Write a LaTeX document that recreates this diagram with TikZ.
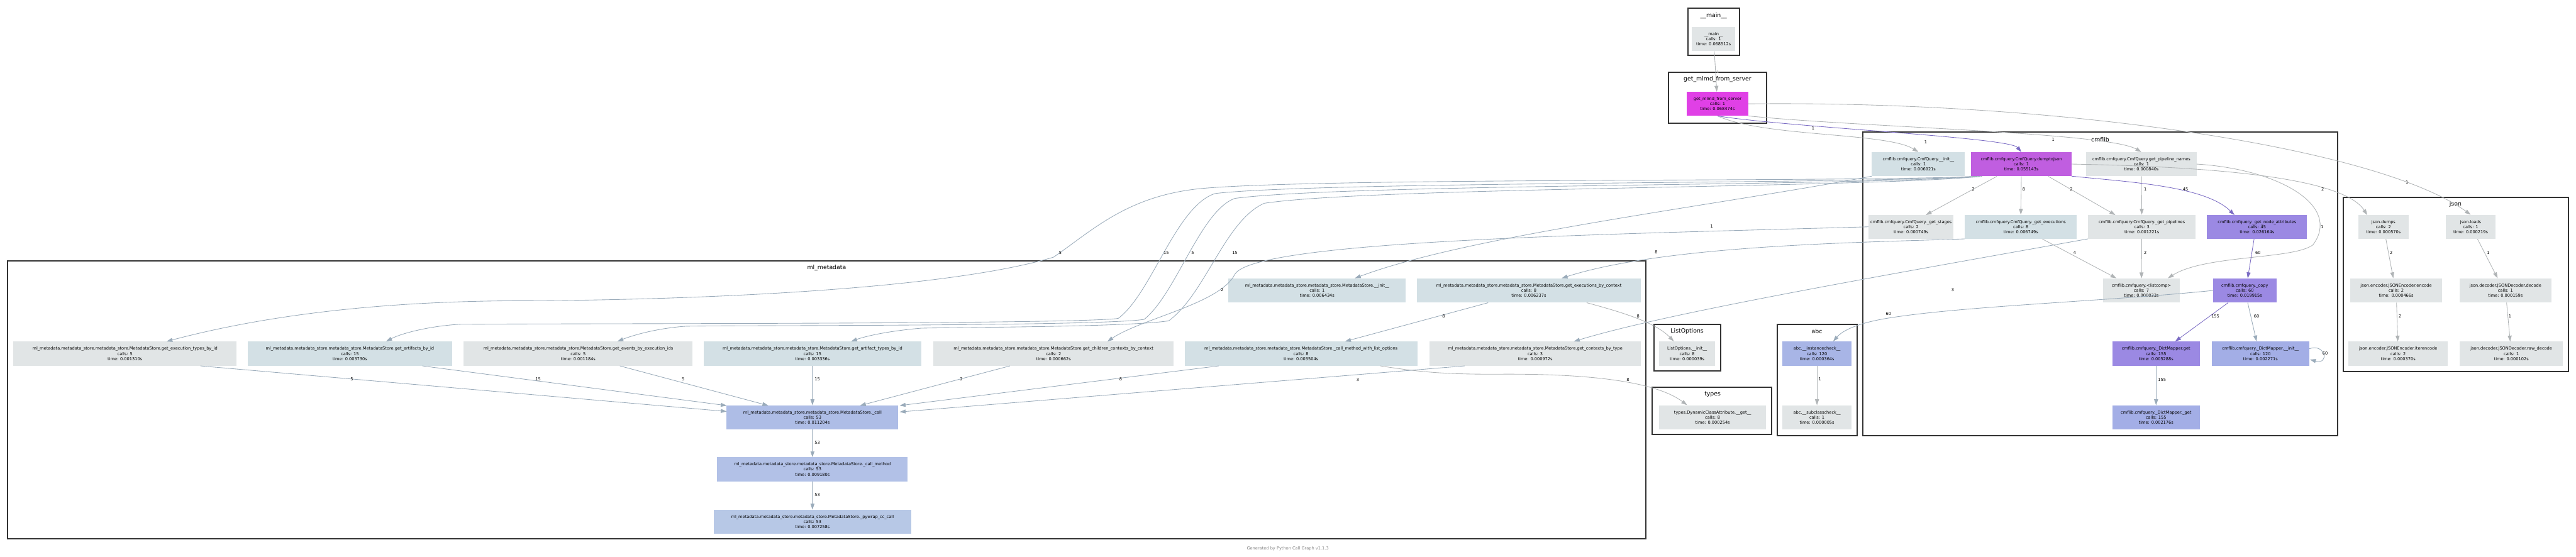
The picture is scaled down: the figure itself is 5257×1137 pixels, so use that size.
\documentclass[tikz,border=0pt]{standalone}
\usepackage{fontspec}
\setmainfont{DejaVu Sans}
\usetikzlibrary{arrows.meta}
\definecolor{cg}{HTML}{E1E5E6}
\definecolor{cb}{HTML}{D3E0E5}
\definecolor{ccall}{HTML}{AEBDE6}
\definecolor{ccm}{HTML}{B2C1E7}
\definecolor{cpy}{HTML}{B7C8E6}
\definecolor{cpur}{HTML}{9B89E3}
\definecolor{cdm}{HTML}{A3AEE6}
\definecolor{cabc}{HTML}{A8B5E6}
\definecolor{cdump}{HTML}{C05EE0}
\definecolor{cmlmd}{HTML}{E040E6}
\definecolor{egrey}{HTML}{B0B4B6}
\definecolor{eblue}{HTML}{9AABBA}
\definecolor{epur}{HTML}{7B6CC4}
\definecolor{clb}{HTML}{333333}
\begin{document}
\begin{tikzpicture}[x=1pt,y=-1pt,
  fn/.style={rectangle, inner sep=0pt, minimum height=49pt, align=center, font=\fontsize{8.5}{10.4}\selectfont},
  clu/.style={draw=clb, line width=2.6pt},
  clab/.style={font=\fontsize{12}{14}\selectfont, inner sep=0pt},
  eg/.style={draw=egrey, line width=1.1pt, -{Triangle[length=12pt,width=8pt]}, color=egrey},
  eb/.style={draw=eblue, line width=1.1pt, -{Triangle[length=12pt,width=8pt]}, color=eblue},
  ep/.style={draw=epur, line width=1.1pt, -{Triangle[length=12pt,width=8pt]}, color=epur},
  el/.style={font=\fontsize{8.5}{10}\selectfont, inner sep=1pt}]
\useasboundingbox (0,0) rectangle (5257,1137);
\fill[white] (0,0) rectangle (5257,1137);

% clusters
\draw[clu] (3445,17) rectangle (3550,113);
\node[clab] (kmain) at (3497,32) {\_\_main\_\_};
\draw[clu] (3405,147) rectangle (3605,252);
\node[clab] (kmlmd) at (3505,162) {get\_mlmd\_from\_server};
\draw[clu] (3801,270) rectangle (4771,890);
\node[clab] (kcmf) at (4286,285) {cmflib};
\draw[clu] (4782,403) rectangle (5242,758);
\node[clab] (kjson) at (5011,417) {json};
\draw[clu] (15,533) rectangle (3359,1100);
\node[clab] (kml) at (1687,547) {ml\_metadata};
\draw[clu] (3375,662) rectangle (3512,757);
\node[clab] (klo) at (3443,676) {ListOptions};
\draw[clu] (3372,791) rectangle (3616,887);
\node[clab] (kty) at (3495,805) {types};
\draw[clu] (3627,662) rectangle (3790,890);
\node[clab] (kabc) at (3708,676) {abc};

% nodes
\node[fn, fill=cg, minimum width=88pt] (main) at (3497,80) {\_\_main\_\_\\calls: 1\\time: 0.068512s};
\node[fn, fill=cmlmd, minimum width=125pt] (mlmd) at (3505,212) {get\_mlmd\_from\_server\\calls: 1\\time: 0.068474s};

\node[fn, fill=cb, minimum width=190pt] (cinit) at (3915,335) {cmflib.cmfquery.CmfQuery.\_\_init\_\_\\calls: 1\\time: 0.006921s};
\node[fn, fill=cdump, minimum width=205pt] (cdump) at (4125,335) {cmflib.cmfquery.CmfQuery.dumptojson\\calls: 1\\time: 0.055143s};
\node[fn, fill=cg, minimum width=225pt] (cnames) at (4370,335) {cmflib.cmfquery.CmfQuery.get\_pipeline\_names\\calls: 1\\time: 0.000840s};

\node[fn, fill=cg, minimum width=173pt] (cstages) at (3900,463) {cmflib.cmfquery.CmfQuery.\_get\_stages\\calls: 2\\time: 0.000749s};
\node[fn, fill=cb, minimum width=228pt] (cexec) at (4124,463) {cmflib.cmfquery.CmfQuery.\_get\_executions\\calls: 8\\time: 0.006749s};
\node[fn, fill=cg, minimum width=220pt] (cpipe) at (4371,463) {cmflib.cmfquery.CmfQuery.\_get\_pipelines\\calls: 3\\time: 0.001221s};
\node[fn, fill=cpur, minimum width=204pt] (cnode) at (4606,463) {cmflib.cmfquery.\_get\_node\_attributes\\calls: 45\\time: 0.026164s};

\node[fn, fill=cg, minimum width=157pt] (clist) at (4370,593) {cmflib.cmfquery.<listcomp>\\calls: 7\\time: 0.000033s};
\node[fn, fill=cpur, minimum width=129pt] (ccopy) at (4581,593) {cmflib.cmfquery.\_copy\\calls: 60\\time: 0.019915s};

\node[fn, fill=cpur, minimum width=179pt] (cget) at (4400,722) {cmflib.cmfquery.\_DictMapper.get\\calls: 155\\time: 0.005288s};
\node[fn, fill=cdm, minimum width=199pt] (cdinit) at (4613,722) {cmflib.cmfquery.\_DictMapper.\_\_init\_\_\\calls: 120\\time: 0.002271s};
\node[fn, fill=cdm, minimum width=179pt] (cdget) at (4400,852) {cmflib.cmfquery.\_DictMapper.\_get\\calls: 155\\time: 0.002176s};

\node[fn, fill=cg, minimum width=102pt] (jdumps) at (4864,463) {json.dumps\\calls: 2\\time: 0.000570s};
\node[fn, fill=cg, minimum width=101pt] (jloads) at (5042,463) {json.loads\\calls: 1\\time: 0.000219s};
\node[fn, fill=cg, minimum width=187pt] (jenc) at (4890,593) {json.encoder.JSONEncoder.encode\\calls: 2\\time: 0.000466s};
\node[fn, fill=cg, minimum width=187pt] (jdec) at (5113,593) {json.decoder.JSONDecoder.decode\\calls: 1\\time: 0.000159s};
\node[fn, fill=cg, minimum width=203pt] (jiter) at (4894,722) {json.encoder.JSONEncoder.iterencode\\calls: 2\\time: 0.000370s};
\node[fn, fill=cg, minimum width=211pt] (jraw) at (5125,722) {json.decoder.JSONDecoder.raw\_decode\\calls: 1\\time: 0.000102s};

\node[fn, fill=cg, minimum width=114pt] (lo) at (3443,722) {ListOptions.\_\_init\_\_\\calls: 8\\time: 0.000039s};
\node[fn, fill=cg, minimum width=219pt] (ty) at (3495,852) {types.DynamicClassAttribute.\_\_get\_\_\\calls: 8\\time: 0.000254s};
\node[fn, fill=cabc, minimum width=141pt] (ainst) at (3708,722) {abc.\_\_instancecheck\_\_\\calls: 120\\time: 0.000364s};
\node[fn, fill=cg, minimum width=141pt] (asub) at (3708,852) {abc.\_\_subclasscheck\_\_\\calls: 1\\time: 0.000005s};

\node[fn, fill=cb, minimum width=362pt] (minit) at (2688,593) {ml\_metadata.metadata\_store.metadata\_store.MetadataStore.\_\_init\_\_\\calls: 1\\time: 0.006434s};
\node[fn, fill=cb, minimum width=457pt] (mexctx) at (3120,593) {ml\_metadata.metadata\_store.metadata\_store.MetadataStore.get\_executions\_by\_context\\calls: 8\\time: 0.006237s};
\node[fn, fill=cg, minimum width=456pt] (mextypes) at (255,722) {ml\_metadata.metadata\_store.metadata\_store.MetadataStore.get\_execution\_types\_by\_id\\calls: 5\\time: 0.001310s};
\node[fn, fill=cb, minimum width=417pt] (marts) at (714,722) {ml\_metadata.metadata\_store.metadata\_store.MetadataStore.get\_artifacts\_by\_id\\calls: 15\\time: 0.003730s};
\node[fn, fill=cg, minimum width=467pt] (mevents) at (1180,722) {ml\_metadata.metadata\_store.metadata\_store.MetadataStore.get\_events\_by\_execution\_ids\\calls: 5\\time: 0.001184s};
\node[fn, fill=cb, minimum width=444pt] (marttypes) at (1658,722) {ml\_metadata.metadata\_store.metadata\_store.MetadataStore.get\_artifact\_types\_by\_id\\calls: 15\\time: 0.003336s};
\node[fn, fill=cg, minimum width=491pt] (mchild) at (2150,722) {ml\_metadata.metadata\_store.metadata\_store.MetadataStore.get\_children\_contexts\_by\_context\\calls: 2\\time: 0.000662s};
\node[fn, fill=cb, minimum width=475pt] (mlopt) at (2655,722) {ml\_metadata.metadata\_store.metadata\_store.MetadataStore.\_call\_method\_with\_list\_options\\calls: 8\\time: 0.003504s};
\node[fn, fill=cg, minimum width=432pt] (mctx) at (3133,722) {ml\_metadata.metadata\_store.metadata\_store.MetadataStore.get\_contexts\_by\_type\\calls: 3\\time: 0.000972s};
\node[fn, fill=ccall, minimum width=350pt] (mcall) at (1658,852) {ml\_metadata.metadata\_store.metadata\_store.MetadataStore.\_call\\calls: 53\\time: 0.011204s};
\node[fn, fill=ccm, minimum width=389pt] (mcm) at (1658,958) {ml\_metadata.metadata\_store.metadata\_store.MetadataStore.\_call\_method\\calls: 53\\time: 0.009180s};
\node[fn, fill=cpy, minimum width=403pt] (mpy) at (1658,1065) {ml\_metadata.metadata\_store.metadata\_store.MetadataStore.\_pywrap\_cc\_call\\calls: 53\\time: 0.007258s};

\node[font=\fontsize{8.5}{10}\selectfont, text=gray] (foot) at (2628,1120) {Generated by Python Call Graph v1.1.3};

% edges top
\draw[eg] (main) -- (mlmd) node[el, pos=0.5, right] (l0) {1};
\draw[eg] (mlmd.south) .. controls (3600,280) and (3850,270) .. (cinit.north);
\node[el] (l1) at (3700,262) {1};
\draw[ep] (mlmd.south) .. controls (3650,260) and (4100,280) .. (cdump.north);
\node[el] (l2) at (3930,290) {1};
\draw[eg] (mlmd.south east) .. controls (3800,260) and (4300,270) .. (cnames.north);
\node[el] (l3) at (4190,285) {1};
\draw[eg] (mlmd.east) .. controls (4200,205) and (4850,300) .. (jloads.north);
\node[el] (l4) at (4912,372) {1};

% cmflib internal
\draw[eg] (4075,360) -- (3930,439);
\node[el] (l5) at (4027,387) {2};
\draw[eg] (cdump.south) -- (cexec.north);
\node[el] (l6) at (4130,387) {8};
\draw[eg] (4180,360) -- (4317,439);
\node[el] (l7) at (4227,387) {2};
\draw[eg] (cnames) -- (cpipe);
\node[el] (l8) at (4378,387) {1};
\draw[ep] (cdump.south east) .. controls (4350,372) and (4500,380) .. (4560,439);
\node[el] (l9) at (4460,387) {45};
\draw[eg] (4168,488) -- (4319,568);
\node[el] (l10) at (4234,516) {4};
\draw[eg] (cpipe) -- (clist);
\node[el] (l11) at (4378,516) {2};
\draw[eg] (cnames.east) .. controls (4650,345) and (4780,420) .. (4720,500) .. controls (4680,530) and (4500,520) .. (4424,568);
\node[el] (l12) at (4739,463) {1};
\draw[ep] (4600,488) -- (4587,568);
\node[el] (l13) at (4608,516) {60};
\draw[ep] (4547,618) -- (4439,697);
\node[el] (l14) at (4521,646) {155};
\draw[eb] (4587,618) -- (4605,697);
\node[el] (l15) at (4605,646) {60};
\draw[eb] (cdinit.east) ++(0,-10) .. controls (4745,700) and (4755,745) .. (4714,734);
\node[el] (l16) at (4745,722) {60};
\draw[eb] (cget) -- (cdget);
\node[el] (l17) at (4412,775) {155};
\draw[eb] (ccopy.west) .. controls (4300,615) and (4000,625) .. (3850,650) .. controls (3790,660) and (3760,675) .. (3741,697);
\node[el] (l18) at (3854,640) {60};
\draw[eg] (cdump.east) .. controls (4500,340) and (4780,360) .. (4831,439);
\node[el] (l19) at (4740,387) {2};

% json
\draw[eg] (4869,488) -- (4884,568);
\node[el] (l20) at (4880,516) {2};
\draw[eg] (5056,488) -- (5097,568);
\node[el] (l21) at (5078,516) {1};
\draw[eg] (jenc) -- (jiter);
\node[el] (l22) at (4898,646) {2};
\draw[eg] (jdec) -- (jraw);
\node[el] (l23) at (5122,646) {1};
\draw[eg] (ainst) -- (asub);
\node[el] (l24) at (3714,774) {1};

% cmflib -> ml_metadata
\draw[eb] (cinit.south west) .. controls (3500,420) and (3000,480) .. (2765,568);
\node[el] (l25) at (3493,462) {1};
\draw[eb] (cexec.south west) .. controls (3800,495) and (3400,500) .. (3187,568);
\node[el] (l26) at (3380,515) {8};
\draw[eb] (cpipe.south west) .. controls (3800,570) and (3400,640) .. (3212,697);
\node[el] (l27) at (3985,592) {3};
\draw[eb] (cstages.west) .. controls (3300,478) and (2560,490) .. (2520,560) .. controls (2490,620) and (2330,650) .. (2260,697);
\node[el] (l28) at (2494,592) {2};

\draw[eb] (4030,360) .. controls (3800,372) and (2700,362) .. (2450,385) .. controls (2300,400) and (2230,470) .. (2150,525) .. controls (1900,600) and (1300,614) .. (1050,614) .. controls (700,616) and (480,660) .. (340,697);
\node[el] (l29) at (2164,516) {5};
\draw[eb] (4035,360) .. controls (3800,376) and (2700,370) .. (2480,395) .. controls (2400,420) and (2350,600) .. (2282,650) .. controls (2200,662) and (1200,660) .. (940,662) .. controls (880,665) and (820,680) .. (788,697);
\node[el] (l30) at (2380,516) {15};
\draw[eb] (4040,360) .. controls (3800,380) and (2750,375) .. (2520,405) .. controls (2450,430) and (2400,600) .. (2335,652) .. controls (2250,666) and (1500,664) .. (1400,666) .. controls (1340,670) and (1290,685) .. (1260,697);
\node[el] (l31) at (2434,516) {5};
\draw[eb] (4045,360) .. controls (3800,384) and (2800,382) .. (2580,415) .. controls (2500,450) and (2460,600) .. (2385,655) .. controls (2300,668) and (1950,668) .. (1880,670) .. controls (1820,675) and (1770,685) .. (1737,697);
\node[el] (l32) at (2520,516) {15};

% ml_metadata internal
\draw[eb] (3037,618) -- (2745,697);
\node[el] (l33) at (2946,646) {8};
\draw[eg] (3238,618) .. controls (3320,640) and (3380,660) .. (3416,697);
\node[el] (l34) at (3343,646) {8};
\draw[eg] (2817,747) .. controls (2900,760) and (2950,764) .. (3050,764) .. controls (3250,762) and (3380,780) .. (3443,827);
\node[el] (l35) at (3322,775) {8};
\draw[eb] (2989,747) -- (1836,841);
\node[el] (l36) at (2771,775) {3};
\draw[eb] (2487,747) -- (1836,828);
\node[el] (l37) at (2287,774) {8};
\draw[eb] (2061,747) -- (1755,828);
\node[el] (l38) at (1962,774) {2};
\draw[eb] (marttypes) -- (mcall);
\node[el] (l39) at (1668,774) {15};
\draw[eb] (1265,747) -- (1568,828);
\node[el] (l40) at (1394,774) {5};
\draw[eb] (862,747) -- (1483,828);
\node[el] (l41) at (1098,774) {15};
\draw[eb] (409,747) -- (1483,840);
\node[el] (l42) at (718,774) {5};
\draw[eb] (mcall) -- (mcm);
\node[el] (l43) at (1668,904) {53};
\draw[eb] (mcm) -- (mpy);
\node[el] (l44) at (1668,1010) {53};
\end{tikzpicture}
\end{document}
